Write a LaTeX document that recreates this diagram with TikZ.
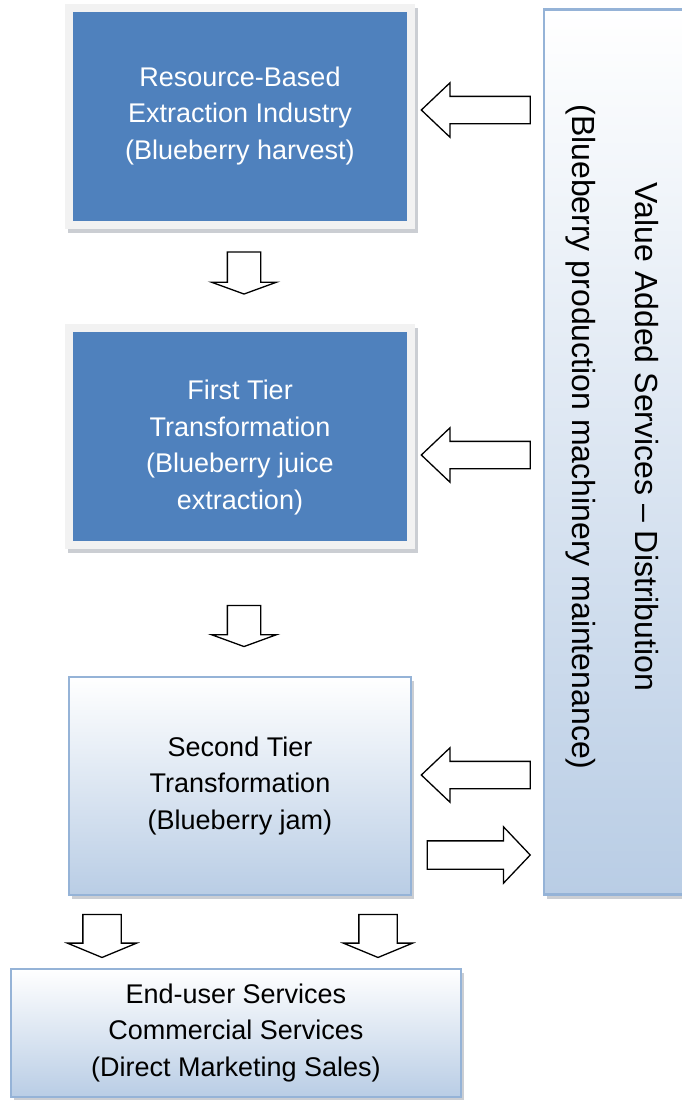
\documentclass[tikz,border=0pt]{standalone}
\usepackage{fontspec}
\setmainfont{Liberation Sans}
\usepackage{xcolor}
\usepackage{tikz}
\usetikzlibrary{shapes.arrows}
\usetikzlibrary{shadows}
\definecolor{boxblue}{HTML}{4F81BD}
\definecolor{framegray}{HTML}{F2F2F2}
\definecolor{edgeblue}{HTML}{95B3D7}
\definecolor{paleblue}{HTML}{B9CDE5}
\definecolor{shadegray}{HTML}{979EA8}

\begin{document}
\begin{tikzpicture}[x=1pt,y=-1pt,
  every node/.style={align=center,inner sep=0pt,font=\fontsize{27}{36.5}\selectfont},
  darkbox/.style={fill=framegray,text=white,minimum width=350pt,minimum height=225pt,
    drop shadow={shadow xshift=3pt,shadow yshift=-4pt,fill=shadegray},
    path picture={\fill[boxblue] ([shift={(8pt,8pt)}]path picture bounding box.south west)
      rectangle ([shift={(-8pt,-8pt)}]path picture bounding box.north east);}},
  lightbox/.style={draw=edgeblue,line width=2.5pt,top color=white,bottom color=paleblue,
    drop shadow={shadow xshift=3pt,shadow yshift=-4pt,fill=shadegray}},
  blockarrow/.style={single arrow,draw,fill=white,line width=1.3pt,inner xsep=0pt,
    single arrow head indent=0pt}]
  \useasboundingbox (0,0) rectangle (681,1100);

  \node[darkbox] (harvest) at (240,116) {Resource-Based\\Extraction Industry\\(Blueberry harvest)};
  \node[darkbox] (juice) at (240,436) {\rule{0pt}{43pt}First Tier\\Transformation\\(Blueberry juice\\extraction)};
  \node[lightbox,minimum width=342pt,minimum height=218pt] (jam) at (240,786)
    {Second Tier\\Transformation\\(Blueberry jam)};
  \node[lightbox,minimum width=450pt,minimum height=128pt] (sales) at (236,1033)
    {End-user Services\\Commercial Services\\(Direct Marketing Sales)};
  \node[lightbox,minimum width=180pt,minimum height=885pt] (services) at (634,452) {};
  \node[rotate=-90,font=\fontsize{32}{36}\selectfont] (serviceslabel) at (612,437)
    {Value Added Services -- Distribution\\[27pt](Blueberry production machinery maintenance)};

  \node[blockarrow,rotate=-90,minimum height=42pt,inner ysep=16pt,
    single arrow head extend=16pt,single arrow tip angle=140] (down1) at (244,270) {};
  \node[blockarrow,rotate=-90,minimum height=41pt,inner ysep=16pt,
    single arrow head extend=16pt,single arrow tip angle=140] (down2) at (244,623) {};
  \node[blockarrow,rotate=-90,minimum height=43pt,inner ysep=18.5pt,
    single arrow head extend=15.5pt,single arrow tip angle=135] (down3) at (102,932) {};
  \node[blockarrow,rotate=-90,minimum height=43pt,inner ysep=18.5pt,
    single arrow head extend=15.5pt,single arrow tip angle=135] (down4) at (378,932) {};

  \node[blockarrow,rotate=180,minimum height=109pt,inner ysep=13pt,
    single arrow head extend=13.5pt,single arrow tip angle=87] (left1) at (483,110) {};
  \node[blockarrow,rotate=180,minimum height=109pt,inner ysep=13pt,
    single arrow head extend=13.5pt,single arrow tip angle=87] (left2) at (483,455) {};
  \node[blockarrow,rotate=180,minimum height=109pt,inner ysep=13pt,
    single arrow head extend=13.5pt,single arrow tip angle=87] (left3) at (483,775) {};
  \node[blockarrow,minimum height=103pt,inner ysep=13.5pt,
    single arrow head extend=14pt,single arrow tip angle=93] (right1) at (472,855) {};
\end{tikzpicture}
\end{document}
